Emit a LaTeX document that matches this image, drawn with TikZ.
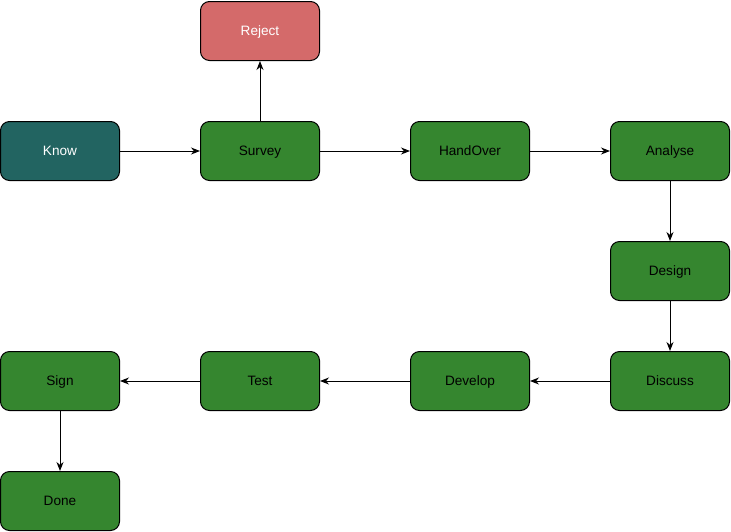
\documentclass[tikz,border=0pt]{standalone}
\usepackage{fontspec}
\setmainfont{Liberation Sans}
\usetikzlibrary{arrows.meta}
\definecolor{stepgreen}{HTML}{35862F}
\definecolor{knowteal}{HTML}{226461}
\definecolor{rejectred}{HTML}{D46A6A}
\begin{document}
\begin{tikzpicture}[x=1pt,y=-1pt,
	box/.style={draw=black, line width=1pt, rounded corners=9pt, fill=stepgreen,
		minimum width=119pt, minimum height=59pt, text height=9.7pt, text depth=0pt,
		font=\fontsize{13.6}{16}\selectfont},
	arr/.style={-{Stealth[length=9pt,width=7pt]}, line width=1pt}]

	\useasboundingbox (0,0) rectangle (731,531);

	\node[box, fill=knowteal, text=white] (know) at (60,151) {Know};
	\node[box] (survey) at (260,151) {Survey};
	\node[box] (handover) at (470,151) {HandOver};
	\node[box] (analyse) at (670,151) {Analyse};
	\node[box, fill=rejectred, text=white] (reject) at (260,31) {Reject};
	\node[box] (design) at (670,271) {Design};
	\node[box] (discuss) at (670,381) {Discuss};
	\node[box] (develop) at (470,381) {Develop};
	\node[box] (test) at (260,381) {Test};
	\node[box] (sign) at (60,381) {Sign};
	\node[box] (done) at (60,501) {Done};

	\draw[arr] (know) -- (survey);
	\draw[arr] (survey) -- (reject);
	\draw[arr] (survey) -- (handover);
	\draw[arr] (handover) -- (analyse);
	\draw[arr] (analyse) -- (design);
	\draw[arr] (design) -- (discuss);
	\draw[arr] (discuss) -- (develop);
	\draw[arr] (develop) -- (test);
	\draw[arr] (test) -- (sign);
	\draw[arr] (sign) -- (done);

\end{tikzpicture}
\end{document}
